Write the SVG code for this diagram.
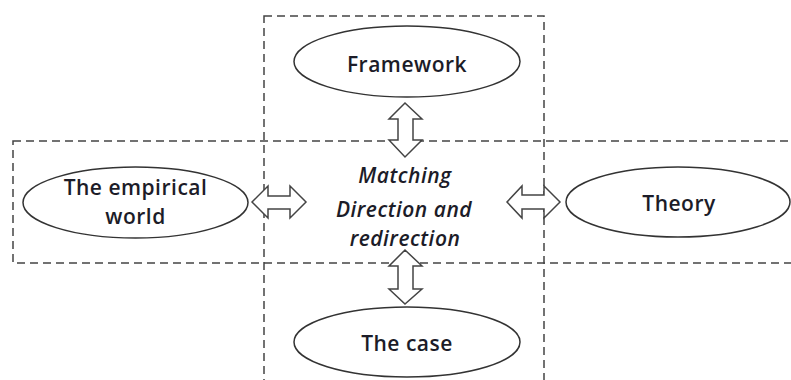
<svg xmlns="http://www.w3.org/2000/svg" width="791" height="380" viewBox="0 0 791 380">
<style>
.box{fill:none;stroke:#444;stroke-width:1.5;stroke-dasharray:8 5}
.node ellipse{fill:#fff;stroke:#333;stroke-width:1.5}
.lbl{font-family:"Open Sans","Noto Sans",sans-serif;font-size:21px;font-weight:600;fill:#1c1c28;text-anchor:middle;letter-spacing:0.5px}
.mid{font-style:italic}
.arr{fill:#fff;stroke:#444;stroke-width:1.5;stroke-linejoin:miter}
</style>
<rect width="791" height="380" fill="#fff"/>
<g id="frames">
<rect class="box" x="264" y="16" width="280" height="380"/>
<rect class="box" x="13" y="141" width="790" height="122"/>
</g>
<g id="connectors">
<path class="arr" d="M405,103 L422,119 L413,119 L413,140 L422,140 L405,157 L389,140 L398,140 L398,119 L389,119 Z"/>
<path class="arr" d="M405,250 L422,266 L413,266 L413,289 L422,289 L405,304 L389,289 L398,289 L398,266 L389,266 Z"/>
<path class="arr" d="M252,202 L268,186 L268,196 L290,196 L290,186 L306,202 L290,218 L290,209 L268,209 L268,218 Z"/>
<path class="arr" d="M507,202 L522,186 L522,195 L544,195 L544,186 L560,202 L544,218 L544,209 L522,209 L522,218 Z"/>
</g>
<g id="framework" class="node">
<ellipse cx="407" cy="61.5" rx="113" ry="35.5"/>
<text class="lbl" x="407" y="72">Framework</text>
</g>
<g id="empirical" class="node">
<ellipse cx="135.5" cy="202.5" rx="112.5" ry="35.5"/>
<text class="lbl" x="135.5" y="195">The empirical</text>
<text class="lbl" x="135.5" y="224">world</text>
</g>
<g id="theory" class="node">
<ellipse cx="678" cy="202" rx="112" ry="35"/>
<text class="lbl" x="679" y="211">Theory</text>
</g>
<g id="case" class="node">
<ellipse cx="407" cy="342" rx="113" ry="35"/>
<text class="lbl" x="407" y="351">The case</text>
</g>
<g id="center">
<text class="lbl mid" x="405" y="183">Matching</text>
<text class="lbl mid" x="404" y="217">Direction and</text>
<text class="lbl mid" x="405" y="246">redirection</text>
</g>
</svg>
